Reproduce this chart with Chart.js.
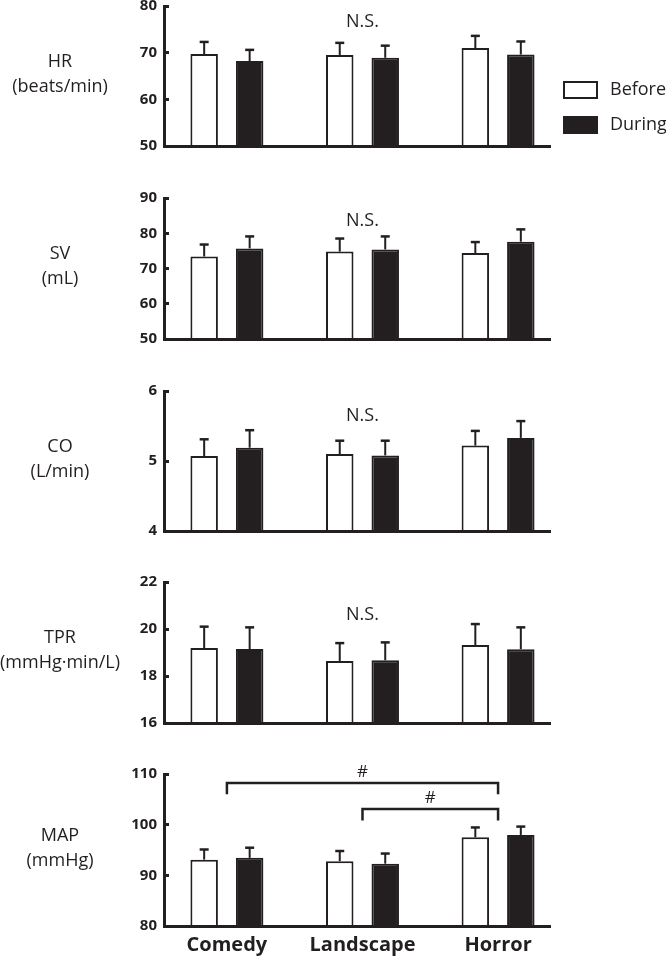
<!DOCTYPE html>
<html>
<head>
<meta charset="utf-8">
<script src="https://cdn.jsdelivr.net/npm/chart.js@4"></script>
<style>
  html, body { margin: 0; padding: 0; background: #fff; }
  body { width: 666px; height: 961px; position: relative; overflow: hidden; }
  canvas { position: absolute; left: 0; }
</style>
</head>
<body>
<canvas id="hr"></canvas>
<canvas id="sv"></canvas>
<canvas id="co"></canvas>
<canvas id="tpr"></canvas>
<canvas id="map"></canvas>
<script>
// categories and series
const categories = ['Comedy', 'Landscape', 'Horror'];
const seriesNames = ['Before', 'During'];

// values (mean and upper error)
const hrBefore = [69.7, 69.5, 71.0];
const hrBeforeErr = [2.6, 2.6, 2.6];
const hrDuring = [68.2, 68.9, 69.6];
const hrDuringErr = [2.4, 2.6, 2.8];

const svBefore = [73.4, 74.8, 74.4];
const svBeforeErr = [3.4, 3.7, 3.1];
const svDuring = [75.7, 75.4, 77.6];
const svDuringErr = [3.4, 3.7, 3.5];

const coBefore = [5.07, 5.10, 5.22];
const coBeforeErr = [0.24, 0.19, 0.21];
const coDuring = [5.19, 5.08, 5.33];
const coDuringErr = [0.25, 0.21, 0.24];

const tprBefore = [19.19, 18.64, 19.32];
const tprBeforeErr = [0.91, 0.76, 0.89];
const tprDuring = [19.15, 18.67, 19.14];
const tprDuringErr = [0.92, 0.76, 0.93];

const mapBefore = [93.1, 92.8, 97.5];
const mapBeforeErr = [2.0, 2.0, 1.95];
const mapDuring = [93.45, 92.3, 97.97];
const mapDuringErr = [2.0, 2.0, 1.65];

// panels
const panelIds = ['hr', 'sv', 'co', 'tpr', 'map'];
const panelNames = ['HR', 'SV', 'CO', 'TPR', 'MAP'];
const panelUnits = ['(beats/min)', '(mL)', '(L/min)', '(mmHg\u00b7min/L)', '(mmHg)'];
const yMins = [50, 50, 4, 16, 80];
const yMaxs = [80, 90, 6, 22, 110];
const ySteps = [10, 10, 1, 2, 10];
const nsLevels = [76.6, 83.5, 5.645, 20.6, null];

// significance brackets on the MAP panel
const bracketFrom = [0, 1];
const bracketTo = [2, 2];
const bracketLevels = [108.2, 103.1];
const bracketLegs = [106.0, 100.8];
const bracketText = ['#', '#'];

const beforeVals = [hrBefore, svBefore, coBefore, tprBefore, mapBefore];
const beforeErrs = [hrBeforeErr, svBeforeErr, coBeforeErr, tprBeforeErr, mapBeforeErr];
const duringVals = [hrDuring, svDuring, coDuring, tprDuring, mapDuring];
const duringErrs = [hrDuringErr, svDuringErr, coDuringErr, tprDuringErr, mapDuringErr];

const ink = '#231f20';
const fontFamily = "'Open Sans', 'DejaVu Sans', sans-serif";

// page layout of each plot area (top / bottom of the y axis)
const axisTops = [5, 197, 390, 581, 773];
const axisBottoms = [157, 350, 542, 734, 926];
const padTop = 20;

// draws error bars, the side label, N.S., legend and brackets
const panelDecor = {
  id: 'panelDecor',
  afterDatasetsDraw(chart, args, opts) {
    const i = opts.index;
    const ctx = chart.ctx;
    const xs = chart.scales.x;
    const ys = chart.scales.y;
    const area = chart.chartArea;
    ctx.save();
    ctx.strokeStyle = ink;
    ctx.fillStyle = ink;

    // error bars (upper only)
    chart.data.datasets.forEach((ds, d) => {
      chart.getDatasetMeta(d).data.forEach((bar, k) => {
        const top = ys.getPixelForValue(ds.data[k].y + ds.err[k]);
        ctx.lineWidth = 2;
        ctx.beginPath();
        ctx.moveTo(bar.x, bar.y);
        ctx.lineTo(bar.x, top);
        ctx.stroke();
        ctx.lineWidth = 2.5;
        ctx.beginPath();
        ctx.moveTo(bar.x - 4.5, top);
        ctx.lineTo(bar.x + 4.5, top);
        ctx.stroke();
      });
    });

    // side label
    const mid = (area.top + area.bottom) / 2 - 2;
    ctx.font = '18px ' + fontFamily;
    ctx.textAlign = 'center';
    ctx.textBaseline = 'middle';
    ctx.fillText(panelNames[i], 60, mid - 12.5);
    ctx.fillText(panelUnits[i], 60, mid + 12.5);

    // N.S.
    if (nsLevels[i] !== null) {
      ctx.font = '18px ' + fontFamily;
      ctx.fillText('N.S.', xs.getPixelForValue(1), ys.getPixelForValue(nsLevels[i]));
    }

    // legend on the first panel
    if (i === 0) {
      ctx.lineWidth = 2;
      ctx.textAlign = 'left';
      ctx.font = '18px ' + fontFamily;
      chart.data.datasets.forEach((ds, d) => {
        const by = area.top + 76 + d * 35;
        ctx.fillStyle = ds.backgroundColor;
        ctx.fillRect(area.right + 14, by, 33, 16);
        ctx.strokeRect(area.right + 14, by, 33, 16);
        ctx.fillStyle = ink;
        ctx.fillText(ds.label, area.right + 60, by + 8);
      });
    }

    // brackets on the last panel
    if (i === panelIds.length - 1) {
      ctx.lineWidth = 2.5;
      ctx.textAlign = 'center';
      ctx.textBaseline = 'alphabetic';
      ctx.font = '17px ' + fontFamily;
      bracketFrom.forEach((from, b) => {
        const x1 = xs.getPixelForValue(from);
        const x2 = xs.getPixelForValue(bracketTo[b]);
        const yl = ys.getPixelForValue(bracketLevels[b]);
        const yg = ys.getPixelForValue(bracketLegs[b]);
        ctx.beginPath();
        ctx.moveTo(x1, yg);
        ctx.lineTo(x1, yl);
        ctx.lineTo(x2, yl);
        ctx.lineTo(x2, yg);
        ctx.stroke();
        ctx.fillText(bracketText[b], (x1 + x2) / 2, yl - 6);
      });
    }
    ctx.restore();
  }
};

function makePanel(i) {
  const canvas = document.getElementById(panelIds[i]);
  const last = i === panelIds.length - 1;
  const xh = last ? 35 : 10;
  canvas.width = 666;
  canvas.height = padTop + (axisBottoms[i] - axisTops[i]) + xh;
  canvas.style.top = (axisTops[i] - padTop) + 'px';

  const barOpts = { borderColor: ink, borderWidth: 2, categoryPercentage: 0.671, barPercentage: 0.604 };

  return new Chart(canvas, {
    type: 'bar',
    data: {
      datasets: [
        Object.assign({
          label: seriesNames[0],
          data: beforeVals[i].map((v, k) => ({ x: k, y: v })),
          err: beforeErrs[i],
          backgroundColor: '#ffffff'
        }, barOpts),
        Object.assign({
          label: seriesNames[1],
          data: duringVals[i].map((v, k) => ({ x: k, y: v })),
          err: duringErrs[i],
          backgroundColor: ink
        }, barOpts)
      ]
    },
    options: {
      responsive: false,
      animation: false,
      devicePixelRatio: 1,
      layout: { padding: { top: padTop, right: 116, left: 0, bottom: 0 } },
      plugins: {
        legend: { display: false },
        tooltip: { enabled: false },
        panelDecor: { index: i }
      },
      scales: {
        x: {
          type: 'linear',
          min: -0.464,
          max: 2.383,
          offset: false,
          afterBuildTicks: s => { s.ticks = categories.map((c, k) => ({ value: k })); },
          afterFit: s => { s.height = xh; },
          grid: { display: false, drawTicks: false },
          border: { display: true, width: 3, color: ink, z: 1 },
          ticks: {
            display: last,
            callback: v => categories[v],
            font: { family: fontFamily, size: 20, weight: 'bold' },
            color: ink,
            padding: 7,
            maxRotation: 0,
            autoSkip: false
          }
        },
        y: {
          min: yMins[i],
          max: yMaxs[i],
          afterFit: s => { s.width = 164; },
          grid: { drawOnChartArea: false, drawTicks: true, tickLength: -5, lineWidth: 3, color: ink },
          border: { display: true, width: 3, color: ink, z: 1 },
          ticks: {
            stepSize: ySteps[i],
            font: { family: fontFamily, size: 15, weight: 'bold' },
            color: ink,
            padding: 12
          }
        }
      }
    },
    plugins: [panelDecor]
  });
}

panelIds.forEach((id, i) => makePanel(i));
</script>
</body>
</html>
